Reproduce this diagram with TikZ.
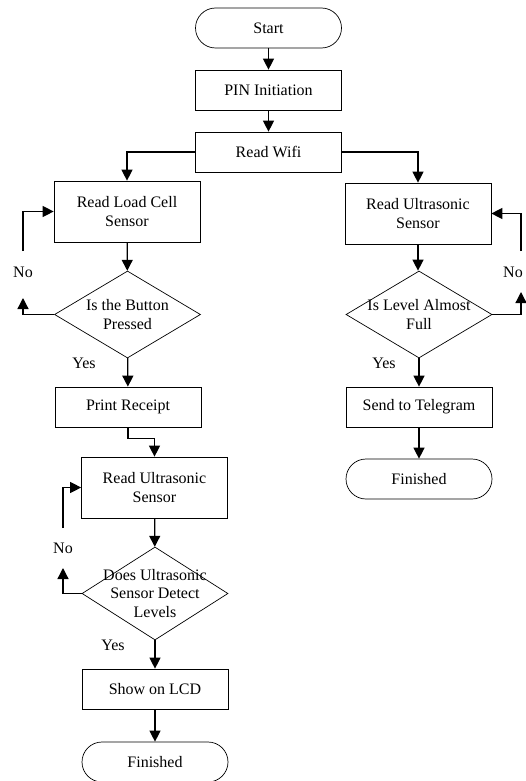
\documentclass[tikz,border=0pt]{standalone}
\usepackage{fontspec}
\setmainfont{Liberation Serif}
\usetikzlibrary{shapes.geometric,arrows.meta}
\begin{document}
\begin{tikzpicture}[x=1pt,y=-1pt,
  every node/.style={font=\fontsize{16}{18.5}\selectfont, align=center},
  term/.style={draw, line width=0.7pt, rounded corners=20pt, minimum width=146pt, minimum height=40pt, inner sep=0pt},
  proc/.style={draw, line width=0.7pt, minimum width=146pt, minimum height=40pt, inner sep=0pt},
  proc2/.style={proc, minimum height=61pt},
  dec/.style={draw, line width=0.7pt, diamond, minimum width=146pt, minimum height=87pt, inner sep=0pt},
  lbl/.style={inner sep=1pt},
  arr/.style={line width=1.3pt, -{Triangle[length=11pt,width=11pt]}},
  ln/.style={line width=1.3pt}
]
\useasboundingbox (0,0) rectangle (526,781);
% main column
\node[term] (start) at (268.5,28) {Start};
\node[proc] (pin) at (268.5,90) {PIN Initiation};
\node[proc] (wifi) at (268.5,152) {Read Wifi};
% left branch
\node[proc2] (lc) at (127,211.5) {Read Load Cell\\Sensor};
\node[dec] (d1) at (127.5,314.5) {};
\node at (d1) {Is the Button\\Pressed};
\node[proc] (pr) at (128,407) {Print Receipt};
\node[proc2] (ru2) at (154.5,487.5) {Read Ultrasonic\\Sensor};
\node[dec, minimum height=93pt] (d2) at (155,593.5) {};
\node at (d2) {Does Ultrasonic\\Sensor Detect\\Levels};
\node[proc] (lcd) at (155,689) {Show on LCD};
\node[term] (fin1) at (155,762) {Finished};
% right branch
\node[proc2] (ru) at (418,213.5) {Read Ultrasonic\\Sensor};
\node[dec] (d3) at (419,314.5) {};
\node at (d3) {Is Level Almost\\Full};
\node[proc] (st) at (419,407) {Send to Telegram};
\node[term] (fin2) at (419,479) {Finished};
% labels
\node[lbl] (no1) at (23,272) {No};
\node[lbl] (yes1) at (84,363) {Yes};
\node[lbl] (no2) at (63,548) {No};
\node[lbl] (yes2) at (113,645) {Yes};
\node[lbl] (no3) at (513,272) {No};
\node[lbl] (yes3) at (384,363) {Yes};
% loop coordinates
\coordinate (c1a) at (23,298);
\coordinate (c1b) at (23,251);
\coordinate (c2a) at (63,568);
\coordinate (c2b) at (63,528);
\coordinate (c3a) at (521,292);
\coordinate (c3b) at (521,251);
% connectors
\draw[arr] (start) -- (pin);
\draw[arr] (pin) -- (wifi);
\draw[arr] (wifi.west) -| (lc.north);
\draw[arr] (wifi.east) -| (ru.north);
\draw[arr] (lc) -- (d1);
\draw[arr] (d1.west) -| (c1a);
\draw[arr] (c1b) |- (lc.west);
\draw[arr] (d1) -- (pr);
\draw[arr] (pr.south) -- ++(0,11) -| (ru2.north);
\draw[arr] (ru2) -- (d2);
\draw[arr] (d2.west) -| (c2a);
\draw[arr] (c2b) |- (ru2.west);
\draw[arr] (d2) -- (lcd);
\draw[arr] (lcd) -- (fin1);
\draw[arr] (ru.south) -- (ru.south |- d3.north);
\draw[arr] (d3.east) -| (c3a);
\draw[arr] (c3b) |- (ru.east);
\draw[arr] (d3.south) -- (d3.south |- st.north);
\draw[arr] (st) -- (fin2);
\end{tikzpicture}
\end{document}
